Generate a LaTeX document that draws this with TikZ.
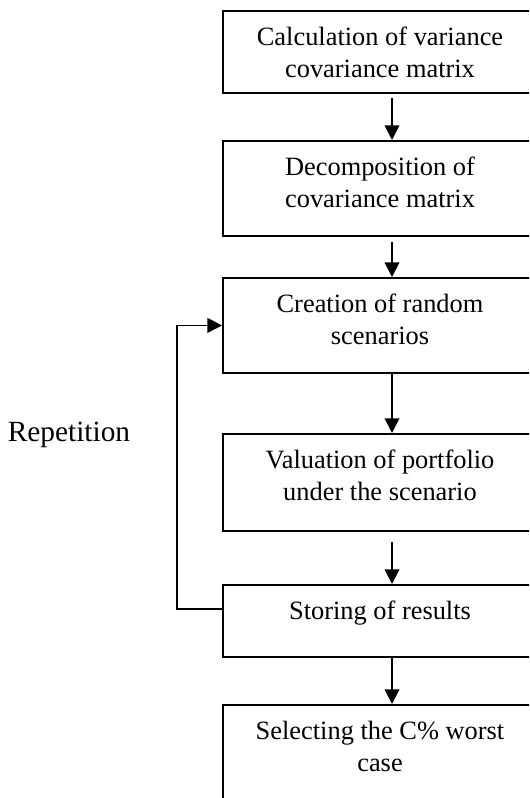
\documentclass[tikz,border=0pt]{standalone}
\usepackage{fontspec}
\setmainfont{Liberation Serif}
\usetikzlibrary{arrows.meta}

\tikzset{
  stage/.style={draw, line width=1.4pt, minimum width=235.5pt, anchor=north, inner sep=0pt},
  stagetext/.style={align=center, inner sep=0pt, anchor=north, font=\fontsize{19.8}{24}\selectfont},
  flow/.style={line width=1.4pt, -{Triangle[length=11pt,width=11pt]}}
}

\begin{document}
\begin{tikzpicture}[x=0.75pt,y=-0.75pt]
    \useasboundingbox (0,0) rectangle (529,798);
    \clip (0,0) rectangle (529,798);

    % Draw the stages of the simulation
    \node[stage, minimum height=61.5pt] (calc) at (380,10) {};
    \node[stage, minimum height=71.25pt] (decomp) at (380,140) {};
    \node[stage, minimum height=71.25pt] (create) at (380,277) {};
    \node[stage, minimum height=72.75pt] (value) at (380,433) {};
    \node[stage, minimum height=54pt] (store) at (380,584) {};
    \node[stage, minimum height=82.5pt] (select) at (380,704) {};

    % Texts inside the stages
    \node[stagetext] at ([yshift=-12.75pt]calc.north) {Calculation of variance\\covariance matrix};
    \node[stagetext] at ([yshift=-12.75pt]decomp.north) {Decomposition of\\covariance matrix};
    \node[stagetext] at ([yshift=-12.75pt]create.north) {Creation of random\\scenarios};
    \node[stagetext] at ([yshift=-12.75pt]value.north) {Valuation of portfolio\\under the scenario};
    \node[stagetext] at ([yshift=-12.75pt]store.north) {Storing of results};
    \node[stagetext] at ([yshift=-12.75pt]select.north) {Selecting the C\% worst\\case};

    % Connect the stages
    \draw[flow, shorten <=3pt] ([xshift=9pt]calc.south) -- ([xshift=9pt]decomp.north);
    \draw[flow, shorten <=3.75pt] ([xshift=9pt]decomp.south) -- ([xshift=9pt]create.north);
    \draw[flow] ([xshift=9pt]create.south) -- ([xshift=9pt]value.north);
    \draw[flow, shorten <=7.5pt] ([xshift=9pt]value.south) -- ([xshift=9pt]store.north);
    \draw[flow] ([xshift=9pt]store.south) -- ([xshift=9pt]select.north);

    % Loop back
    \coordinate (back) at (177,609);
    \draw[flow] (back -| store.west) -- (back) |- (create.west);
    \node[font=\fontsize{22}{26}\selectfont] (rep) at (69,435) {Repetition};
\end{tikzpicture}
\end{document}
